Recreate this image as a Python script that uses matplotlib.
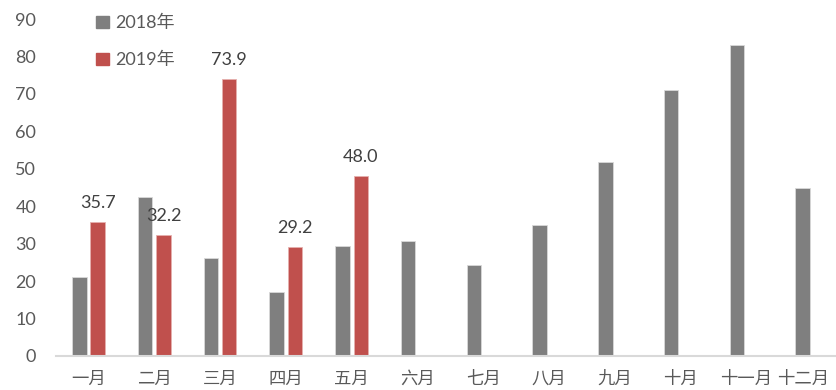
import numpy as np
import matplotlib.pyplot as plt
import matplotlib.transforms as mtransforms
from matplotlib.patches import Patch

plt.rcParams['font.family'] = ['Lato', 'Noto Sans CJK SC', 'DejaVu Sans']

months = ['一月', '二月', '三月', '四月', '五月', '六月',
          '七月', '八月', '九月', '十月', '十一月', '十二月']
v2018 = [21.0, 42.4, 26.3, 17.2, 29.5, 30.8, 24.4, 34.9, 51.7, 71.0, 83.0, 45.0]
v2019 = [35.7, 32.2, 73.9, 29.2, 48.0]

gray = '#7f7f7f'
red = '#c0504d'
txt = '#595959'

fig = plt.figure(figsize=(8.36, 3.9), dpi=100)
ax = fig.add_axes([0.0665, 0.0872, 0.944, 0.864])

x = np.arange(len(months))
w = 0.22
off = 0.14
ax.bar(x - off, v2018, width=w, color=gray, edgecolor='#d9d9d9', linewidth=0.6)
x19 = np.arange(len(v2019))
ax.bar(x19 + off, v2019, width=w, color=red, edgecolor='#e6b0ae', linewidth=0.6)

for xi, v in zip(x19, v2019):
    ax.annotate(f'{v:.1f}', (xi + off, v), xytext=(0, 8), textcoords='offset points',
                ha='center', va='bottom', fontsize=13, color='#404040')

ax.set_xlim(-0.5, len(months) - 0.5)
ax.set_ylim(0, 90)
ax.set_yticks(range(0, 91, 10))
ax.set_xticks(x)
ax.set_xticklabels(months, fontsize=12.5, color=txt, family=['Noto Sans CJK SC'],
                   fontweight='light')
ax.tick_params(axis='y', labelsize=13, labelcolor=txt, length=0, pad=14)
ax.tick_params(axis='x', length=0, pad=10)

# last month label sits at the right edge, nudge it inside
last = ax.get_xticklabels()[-1]
last.set_transform(last.get_transform() +
                   mtransforms.ScaledTranslation(-6 / 72, 0, fig.dpi_scale_trans))

for s in ['left', 'right', 'top']:
    ax.spines[s].set_visible(False)
ax.spines['bottom'].set_color('#d9d9d9')
ax.spines['bottom'].set_linewidth(1.5)

handles = [Patch(color=gray, label='2018年'), Patch(color=red, label='2019年')]
leg = ax.legend(handles=handles, loc='upper left', bbox_to_anchor=(0.031, 1.06),
                frameon=False, fontsize=13, labelspacing=1.15,
                handlelength=0.7, handleheight=0.7, handletextpad=0.35)
for t in leg.get_texts():
    t.set_color(txt)

fig.savefig('out.png', dpi=100)
